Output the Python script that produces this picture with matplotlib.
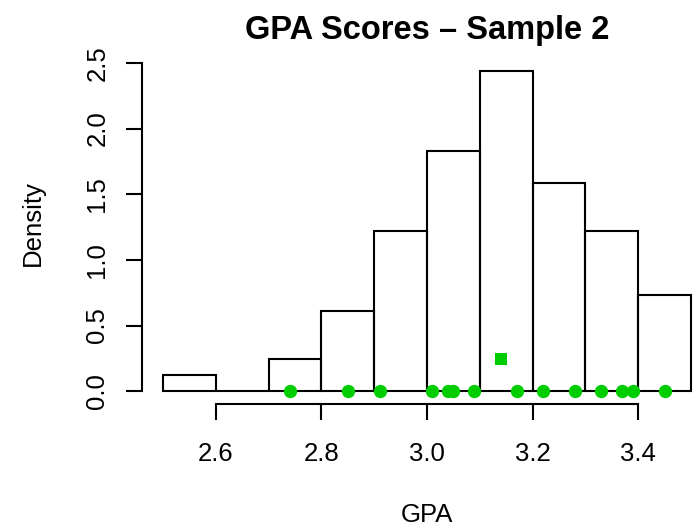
import matplotlib
matplotlib.use("Agg")
import matplotlib.pyplot as plt
import numpy as np

plt.rcParams["font.family"] = ["Liberation Sans", "DejaVu Sans"]

# histogram of GPA (sample 2), breaks every 0.1
breaks = [2.5, 2.6, 2.7, 2.8, 2.9, 3.0, 3.1, 3.2, 3.3, 3.4, 3.5]
counts = [1, 0, 2, 5, 10, 15, 20, 13, 10, 6]

# green points along the baseline
gpa_points = [2.74, 2.85, 2.91, 3.01, 3.04, 3.05, 3.09, 3.17,
              3.22, 3.28, 3.33, 3.37, 3.39, 3.45]
mean_x = 3.14
mean_y = 0.244

xticks = [2.6, 2.8, 3.0, 3.2, 3.4]
yticks = [0.0, 0.5, 1.0, 1.5, 2.0, 2.5]

W, H = 698, 531
fig = plt.figure(figsize=(W / 100, H / 100), dpi=100)
ax = fig.add_axes([142 / W, 127 / H, 570 / W, 346 / H])

n = sum(counts)
width = breaks[1] - breaks[0]
density = np.array(counts) / (n * width)

ax.bar(breaks[:-1], density, width=width, align="edge", fill=False,
       edgecolor="black", linewidth=1.5)

green = "#00CD00"
ax.plot(gpa_points, np.zeros(len(gpa_points)), "o", color=green,
        markersize=9.6, markeredgewidth=0, clip_on=False)
ax.plot([mean_x], [mean_y], "s", color=green, markersize=8.4,
        markeredgewidth=0)

ax.set_xlim(2.46, 3.54)
ax.set_ylim(-0.0976, 2.5376)

for s in ["top", "right"]:
    ax.spines[s].set_visible(False)
ax.spines["bottom"].set_bounds(2.6, 3.4)
ax.spines["left"].set_bounds(0, 2.5)
ax.spines["bottom"].set_linewidth(1.5)
ax.spines["left"].set_linewidth(1.5)

ax.set_xticks(xticks)
ax.set_xticklabels(["2.6", "2.8", "3.0", "3.2", "3.4"])
ax.set_yticks(yticks)
ax.set_yticklabels(["0.0", "0.5", "1.0", "1.5", "2.0", "2.5"])
ax.tick_params(direction="out", length=11.5, width=1.5, labelsize=18.5)
ax.tick_params(axis="x", pad=16)
ax.tick_params(axis="y", pad=12)
for lab in ax.get_yticklabels():
    lab.set_rotation(90)
    lab.set_va("center")

fig.text(427 / W, 1 - 30 / H, "GPA Scores \u2013 Sample 2", ha="center",
         va="center", fontsize=23.5, fontweight="bold")
fig.text(427 / W, 1 - 515 / H, "GPA", ha="center", va="center", fontsize=18.5)
fig.text(33 / W, 1 - 223 / H, "Density", ha="center", va="center",
         fontsize=18.5, rotation=90)

fig.savefig("out.png", dpi=100)
